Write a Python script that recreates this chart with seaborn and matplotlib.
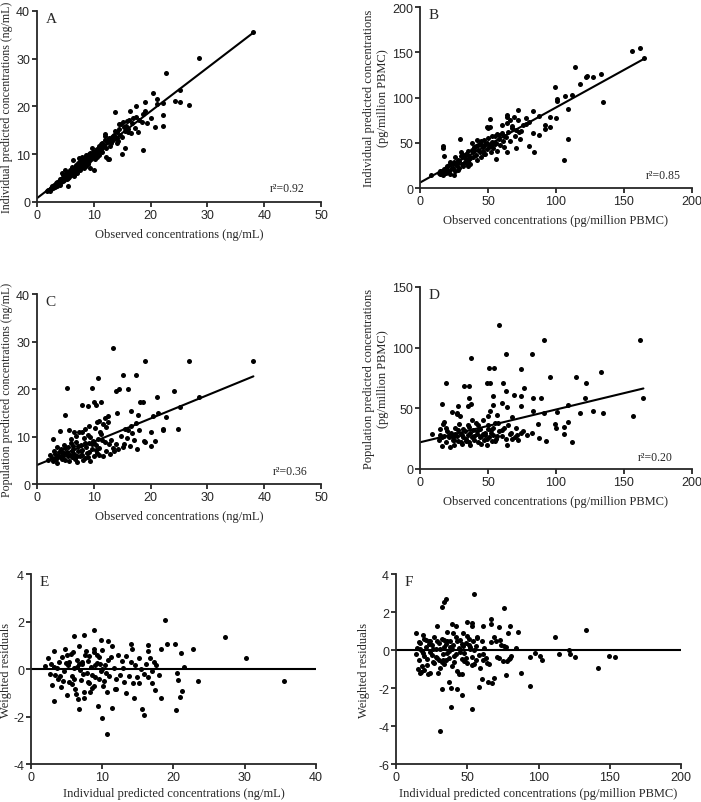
import numpy as np
import matplotlib
matplotlib.use("Agg")
import matplotlib.pyplot as plt
import seaborn as sns

# ---- panel A: observed vs individual predicted (ng/mL)
a_obs = [1.8, 2.0, 2.2, 2.4, 2.5, 2.7, 2.9, 3.0, 3.2, 3.3,
         3.5, 3.6, 3.8, 3.9, 4.0, 4.2, 4.3, 4.4, 4.5, 4.7,
         4.8, 4.9, 5.0, 5.1, 5.2, 5.3, 5.4, 5.5, 5.6, 5.7,
         5.8, 5.9, 6.0, 6.1, 6.2, 6.3, 6.4, 6.5, 6.6, 6.7,
         6.8, 6.9, 7.0, 7.1, 7.2, 7.3, 7.4, 7.5, 7.6, 7.7,
         7.8, 7.9, 8.0, 8.1, 8.2, 8.3, 8.4, 8.5, 8.6, 8.7,
         8.8, 8.9, 9.0, 9.1, 9.2, 9.3, 9.4, 9.5, 9.6, 9.8,
         9.9, 10.0, 10.1, 10.2, 10.4, 10.5, 10.6, 10.8, 10.9, 11.0,
         11.2, 11.3, 11.5, 11.6, 11.8, 11.9, 12.1, 12.2, 12.4, 12.5,
         12.7, 12.8, 13.0, 13.2, 13.4, 13.6, 13.8, 14.0, 14.2, 14.4,
         14.6, 14.8, 15.0, 15.3, 15.5, 15.7, 16.0, 16.2, 16.5, 16.8,
         2.6, 3.4, 4.1, 4.6, 5.2, 5.7, 6.3, 6.9, 7.5, 8.1,
         8.7, 9.3, 9.9, 10.4, 10.9, 11.5, 12.0, 12.6, 13.3, 14.1,
         5.0, 5.5, 6.1, 6.6, 7.0, 7.4, 7.9, 8.3, 8.9, 9.4,
         13.8, 15.0, 15.5, 14.1, 17.4, 16.4, 17.7, 18.4, 18.6, 17.5,
         16.1, 14.4, 13.7, 12.7, 12.6, 11.9, 18.6, 19.1, 19.1, 20.1,
         20.4, 20.8, 21.1, 21.2, 22.1, 22.1, 22.1, 22.7, 24.3, 25.1,
         25.2, 26.8, 28.5, 38.1, 16.9, 17.3, 15.9, 15.2, 19.4, 18.0]
a_ipred = [2.2, 2.6, 2.4, 3.0, 2.7, 3.2, 2.9, 3.5, 3.1, 3.8,
           3.4, 4.1, 3.9, 4.5, 3.6, 4.2, 4.8, 6.1, 4.4, 5.0,
           4.6, 5.4, 5.1, 5.9, 4.9, 5.5, 6.3, 3.4, 5.8, 5.2,
           6.6, 6.0, 5.6, 7.4, 6.2, 8.7, 6.7, 5.9, 7.0, 6.4,
           7.5, 6.8, 7.8, 6.1, 7.2, 8.1, 7.0, 8.5, 6.6, 7.9,
           8.3, 7.4, 9.5, 7.8, 8.6, 7.1, 9.0, 8.2, 9.8, 7.6,
           8.9, 9.3, 8.0, 10.1, 8.6, 9.6, 7.2, 9.0, 11.3, 9.4,
           10.5, 6.6, 9.8, 9.1, 10.8, 9.5, 11.0, 10.2, 11.8, 9.9,
           10.9, 12.2, 10.5, 11.5, 12.0, 14.2, 11.3, 9.5, 12.6, 8.9,
           13.0, 11.8, 12.4, 13.6, 12.9, 14.1, 13.3, 14.6, 12.8, 15.2,
           14.0, 16.3, 13.7, 15.6, 14.8, 16.0, 15.3, 17.2, 14.5, 16.6,
           3.4, 3.9, 4.9, 5.6, 5.8, 6.1, 7.0, 7.7, 7.3, 8.9,
           8.5, 8.9, 9.6, 10.2, 11.2, 12.3, 12.9, 13.4, 13.9, 13.5,
           6.8, 5.1, 6.7, 5.5, 6.5, 9.2, 8.8, 9.3, 8.1, 10.3,
           18.8, 10.0, 11.4, 12.3, 20.2, 19.1, 14.6, 16.7, 18.4, 17.9,
           14.6, 16.3, 14.9, 13.2, 9.1, 13.9, 10.9, 21.0, 19.0, 17.5,
           22.8, 15.6, 20.5, 21.6, 20.7, 18.3, 16.0, 27.1, 21.1, 20.9,
           23.5, 20.4, 30.1, 35.6, 17.5, 15.4, 17.0, 16.8, 16.6, 17.2]

# ---- panel B: observed vs individual predicted (pg/million PBMC)
b_obs = [14, 15, 16, 17, 18, 19, 20, 21, 22, 23,
         24, 25, 26, 27, 28, 29, 30, 31, 32, 33,
         34, 35, 36, 37, 38, 39, 40, 41, 42, 43,
         44, 45, 46, 47, 48, 49, 50, 51, 52, 53,
         54, 55, 56, 57, 58, 59, 60, 61, 62, 63,
         65, 66, 68, 70, 72, 74, 76, 78, 80, 15,
         17, 19, 21, 23, 25, 27, 29, 31, 33, 35,
         37, 39, 41, 43, 45, 47, 49, 51, 53, 55,
         18, 22, 26, 30, 34, 38, 42, 46, 50, 58,
         16, 20, 24, 28, 32, 36, 40, 44, 48, 52,
         57, 62, 66, 69, 73, 64, 60, 25, 35, 45,
         164.5, 161.6, 156.2, 114.2, 132.8, 126.9, 122.0, 123.0, 117.6, 111.7,
         106.6, 99.0, 100.5, 100.5, 108.8, 134.7, 108.8, 105.6, 99.8, 95.6,
         91.7, 91.7, 87.3, 83.1, 83.1, 87.5, 83.8, 80.2, 78.0, 71.9,
         70.5, 63.8, 63.8, 63.8, 55.7, 51.6, 49.6, 51.6, 29.1, 16.6,
         16.9, 8.3, 73.6, 70.7, 67.5, 95.6]
b_ipred = [17, 15, 19, 14, 21, 17, 24, 19, 16, 27,
           22, 29, 19, 26, 31, 22, 35, 27, 24, 33,
           38, 30, 35, 27, 42, 34, 45, 37, 31, 48,
           40, 52, 45, 38, 49, 43, 55, 47, 40, 51,
           44, 58, 50, 41, 54, 47, 61, 52, 45, 56,
           62, 52, 66, 58, 75, 63, 70, 77, 73, 19,
           18, 22, 25, 21, 28, 24, 30, 37, 29, 41,
           33, 40, 46, 42, 47, 53, 50, 45, 57, 49,
           35, 29, 34, 40, 28, 50, 53, 41, 66, 59,
           16, 20, 26, 20, 36, 32, 42, 50, 38, 48,
           60, 58, 75, 79, 62, 78, 70, 14, 24, 34,
           143.6, 154.7, 151.0, 134.1, 126.3, 123.0, 122.6, 123.7, 115.3, 102.4,
           101.3, 112.0, 98.7, 95.8, 87.7, 95.0, 53.8, 30.6, 77.3, 67.8,
           69.2, 65.6, 79.6, 84.7, 61.1, 58.2, 39.4, 46.4, 71.0, 85.8,
           44.6, 80.3, 39.4, 71.8, 32.4, 76.6, 67.4, 67.4, 54.5, 46.4,
           44.0, 14.7, 54.5, 63.7, 68.1, 78.5]

# ---- panel C: observed vs population predicted (ng/mL)
c_obs = [2.0, 2.3, 2.6, 2.9, 3.2, 3.4, 3.6, 3.8, 4.0, 4.2,
         4.4, 4.6, 4.8, 5.0, 5.2, 5.4, 5.6, 5.8, 6.0, 6.2,
         6.4, 6.6, 6.8, 7.0, 7.2, 7.4, 7.6, 7.8, 8.0, 8.2,
         8.4, 8.6, 8.8, 9.0, 9.2, 9.4, 9.6, 9.8, 10.0, 10.2,
         10.4, 10.6, 10.8, 11.0, 11.3, 11.6, 11.9, 12.2, 12.5, 12.8,
         13.1, 13.5, 13.9, 14.3, 14.7, 15.1, 15.5, 15.9, 16.3, 16.7,
         3.0, 3.7, 4.3, 4.9, 5.5, 6.1, 6.7, 7.3, 7.9, 8.5,
         9.1, 9.7, 10.3, 10.9, 11.5, 12.1, 12.7, 13.3, 5.3, 6.3,
         7.1, 8.1, 9.3, 4.7, 5.9, 6.9, 7.7, 8.9, 10.1, 11.1,
         16.0, 16.5, 17.0, 17.5, 18.0, 12.0, 11.0, 8.5, 6.5, 3.5,
         38.1, 26.8, 19.1, 13.4, 10.8, 5.3, 9.6, 15.2, 17.4, 14.5,
         13.9, 16.0, 24.2, 21.1, 28.5, 25.2, 18.1, 18.6, 7.9, 10.0,
         10.4, 11.3, 4.9, 9.0, 14.1, 16.6, 17.7, 20.5, 21.3, 22.7,
         22.1, 22.2, 24.9, 20.1, 20.8, 18.8, 19.1, 20.0, 17.6, 15.3,
         10.5, 11.7, 12.5, 9.1, 8.0, 2.9, 4.0, 5.6]
c_pred = [5.0, 6.1, 5.5, 4.9, 6.3, 5.2, 4.5, 6.8, 5.7, 7.3,
          5.3, 6.0, 8.2, 5.0, 6.7, 7.8, 4.8, 6.2, 9.5, 5.6,
          7.4, 6.3, 8.8, 4.7, 6.9, 11.0, 5.9, 8.3, 7.1, 9.6,
          5.4, 7.8, 6.5, 10.3, 8.6, 4.9, 7.3, 9.0, 6.0, 11.7,
          8.2, 6.6, 9.4, 7.5, 10.6, 5.9, 8.8, 7.0, 13.0, 6.4,
          9.2, 6.9, 8.5, 7.3, 10.2, 7.8, 11.5, 9.6, 8.0, 10.8,
          6.9, 5.8, 7.0, 7.5, 5.9, 6.9, 5.2, 8.0, 6.1, 8.7,
          6.8, 8.4, 7.1, 6.2, 9.3, 12.0, 8.4, 7.6, 6.4, 7.9,
          6.0, 5.1, 9.8, 6.6, 8.6, 10.2, 7.0, 5.7, 8.6, 11.0,
          11.3, 12.2, 9.3, 12.9, 11.4, 14.0, 13.2, 11.5, 11.0, 7.7,
          25.8, 25.9, 25.9, 28.7, 22.3, 20.2, 20.2, 23.0, 23.0, 20.0,
          19.5, 20.1, 19.5, 18.4, 18.4, 16.3, 17.2, 17.2, 16.7, 17.3,
          16.7, 17.2, 14.6, 16.4, 14.9, 15.4, 14.5, 14.4, 15.0, 14.2,
          11.6, 11.4, 11.5, 10.9, 9.1, 9.1, 8.9, 7.9, 7.4, 8.4,
          13.0, 12.6, 14.4, 12.3, 10.9, 9.5, 11.1, 11.4]

# ---- panel D: observed vs population predicted (pg/million PBMC)
d_obs = [9, 14, 15, 16, 17, 18, 19, 20, 21, 22,
         23, 24, 25, 26, 27, 28, 29, 30, 31, 32,
         33, 34, 35, 36, 37, 38, 39, 40, 41, 42,
         43, 44, 45, 46, 47, 48, 49, 50, 51, 52,
         53, 54, 55, 56, 58, 60, 62, 64, 66, 68,
         70, 72, 74, 16, 19, 22, 25, 28, 31, 34,
         37, 40, 43, 46, 49, 52, 55, 18, 24, 30,
         36, 42, 48, 54, 60, 65, 45, 38, 27, 21,
         15, 26, 32, 44, 50, 57, 63, 67, 71, 35,
         57.9, 91.4, 162.1, 37.7, 82.4, 63.3, 50.6, 54.5, 74.3, 18.8,
         49.4, 51.6, 32.3, 36.4, 61.4, 95.8, 114.4, 133.0, 122.0, 76.5,
         69.4, 74.3, 53.8, 36.4, 82.9, 89.2, 121.3, 164.3, 63.3, 74.3,
         109.0, 100.5, 91.4, 82.9, 117.6, 126.9, 134.7, 156.5, 108.6, 106.1,
         99.3, 99.8, 105.9, 111.5, 92.4, 86.6, 82.4, 87.3, 76.0, 78.5,
         16.1, 37.7, 35.5, 29.6, 27.1, 23.5, 27.9, 51.6, 49.9, 60.6,
         54.0, 64.3, 56.5, 57.2, 67.5, 70.7]
d_pred = [29, 24, 33, 19, 37, 27, 22, 31, 26, 18,
          30, 24, 20, 34, 27, 23, 37, 29, 21, 26,
          31, 23, 28, 35, 20, 26, 32, 24, 38, 29,
          22, 33, 27, 40, 24, 30, 20, 36, 26, 32,
          23, 28, 38, 25, 31, 27, 34, 20, 29, 25,
          26, 24, 30, 26, 34, 28, 24, 32, 28, 25,
          30, 27, 36, 29, 25, 30, 23, 39, 26, 22,
          22, 31, 28, 34, 32, 36, 21, 40, 45, 28,
          28, 29, 33, 26, 33, 27, 25, 30, 28, 36,
          118.6, 106.5, 106.5, 91.7, 95.0, 94.4, 83.4, 83.4, 82.3, 71.0,
          71.0, 71.0, 68.3, 68.3, 71.0, 76.0, 76.0, 80.1, 70.5, 66.9,
          60.8, 60.3, 60.0, 58.9, 58.9, 58.9, 58.1, 58.9, 63.9, 51.7,
          52.8, 47.1, 46.0, 47.9, 46.0, 47.9, 46.0, 43.8, 38.8, 35.0,
          37.4, 33.6, 29.2, 22.0, 23.4, 37.4, 30.0, 25.9, 31.0, 28.4,
          53.4, 53.4, 52.0, 43.8, 46.0, 47.1, 51.7, 47.6, 43.8, 54.2,
          53.1, 50.9, 44.3, 38.3, 43.2, 34.1]

# ---- panel E: individual predicted (ng/mL) vs weighted residuals
e_ipred = [2.4, 2.6, 2.8, 3.0, 3.2, 3.4, 3.6, 3.8, 4.0, 4.2,
           4.4, 4.6, 4.8, 5.0, 5.2, 5.4, 5.6, 5.8, 6.0, 6.2,
           6.4, 6.6, 6.8, 7.0, 7.2, 7.4, 7.6, 7.8, 8.0, 8.2,
           8.4, 8.6, 8.8, 9.0, 9.2, 9.4, 9.6, 9.8, 10.0, 10.2,
           10.4, 10.6, 10.8, 11.0, 11.3, 11.6, 11.9, 12.2, 12.5, 12.8,
           13.1, 13.4, 13.7, 14.0, 14.3, 14.6, 14.9, 15.2, 15.5, 15.8,
           16.1, 16.4, 16.7, 17.0, 17.3, 17.6, 17.9, 3.3, 4.1, 4.9,
           5.7, 6.5, 7.3, 8.1, 8.9, 9.7, 10.5, 11.2, 12.0, 12.9,
           5.3, 6.1, 6.9, 7.7, 8.5, 9.3, 10.1, 4.5, 5.9, 7.1,
           8.0, 8.8, 9.6, 6.3, 7.5, 9.0, 5.0, 6.7, 8.3, 9.9,
           18.8, 27.2, 30.2, 35.5, 23.4, 22.8, 21.5, 21.1, 20.2, 19.1,
           18.3, 20.5, 20.6, 21.2, 20.9, 20.4, 18.2, 17.4, 17.0, 15.9,
           15.6, 10.7, 9.9, 11.3, 6.7, 3.2, 8.9, 6.1, 7.5, 9.8,
           10.8, 16.4, 16.4, 14.1, 14.2, 1.9, 14.4, 13.3, 15.2, 11.8]
e_wres = [0.45, -0.22, 0.20, -0.68, 0.75, -0.25, 0.05, -0.40, 0.30, -0.75,
          0.50, -0.10, 0.85, -1.10, 0.15, -0.55, 0.65, -0.30, 0.05, -0.85,
          0.40, -1.25, 0.95, -0.45, 0.20, -0.95, 0.60, -0.15, 0.35, -0.60,
          0.10, -0.80, 0.70, -0.35, 0.25, -1.55, 0.50, -0.10, 0.80, -0.50,
          0.15, -0.95, 0.40, -0.30, 0.95, 0.05, -0.85, 0.60, -0.25, 0.35,
          -0.55, 0.55, -0.30, 0.30, -0.60, 0.15, -0.35, 0.45, 0.00, -0.20,
          0.20, -0.35, 0.45, -0.10, 0.30, 0.15, -0.25, 0.10, -0.30, 0.25,
          -0.65, 0.10, -0.20, 0.55, -0.70, 0.20, -0.15, 0.50, -0.40, 0.05,
          0.30, -0.40, -0.05, 0.75, -0.25, 0.60, -0.70, -0.50, 0.70, 0.30,
          -0.55, 0.85, -0.40, -1.05, -1.20, 0.15, 0.60, 0.20, -0.95, 0.00,
          2.06, 1.35, 0.45, -0.50, -0.50, 0.83, 0.07, 0.69, 1.04, 1.04,
          0.83, -0.18, -0.46, -0.91, -1.16, -1.74, -1.23, -0.88, -0.57, -1.95,
          -1.70, -2.75, -2.05, -1.65, -1.67, -1.35, 1.63, 1.39, 1.43, 1.22,
          1.18, 1.00, 0.75, 1.04, 0.83, 0.13, -1.20, -1.00, -0.57, -0.83]

# ---- panel F: individual predicted (pg/million PBMC) vs weighted residuals
f_ipred = [14, 15, 16, 17, 18, 19, 20, 21, 22, 23,
           24, 25, 26, 27, 28, 29, 30, 31, 32, 33,
           34, 35, 36, 37, 38, 39, 40, 41, 42, 43,
           44, 45, 46, 47, 48, 49, 50, 51, 52, 53,
           54, 55, 56, 57, 58, 59, 60, 61, 62, 63,
           65, 67, 69, 71, 73, 75, 77, 79, 81, 17,
           19, 21, 23, 25, 27, 29, 31, 33, 35, 37,
           39, 41, 43, 45, 47, 49, 51, 53, 55, 57,
           16, 20, 24, 28, 32, 36, 40, 44, 48, 52,
           18, 22, 26, 30, 34, 38, 42, 46, 50, 70,
           72, 74, 76, 78, 80, 61, 64, 36, 46, 56,
           30.7, 54.4, 35.4, 33.8, 32.6, 75.5, 38.9, 53.5, 46.2, 43.1,
           32.1, 38.9, 37.0, 57.9, 94.3, 87.5, 68.7, 67.3, 64.5, 60.3,
           76.9, 111.4, 133.6, 141.8, 149.4, 154.0, 125.9, 122.4, 121.7, 114.7,
           102.7, 101.3, 97.8, 94.0, 83.9, 85.3, 80.0, 78.3, 66.4, 66.4,
           72.0, 28.8, 39.6, 42.4, 49.5, 53.5, 53.5, 60.7, 14.3, 15.5,
           17.8, 16.5, 19.7, 22.3, 23.7, 29.5, 33.8]
f_wres = [-0.20, 0.10, -0.55, 0.35, -0.05, 0.80, -0.30, 0.15, -0.80, 0.50,
          -0.10, 0.25, -0.65, 0.70, 0.05, -0.40, 0.35, -0.95, 0.60, -0.20,
          0.15, -0.55, 0.95, -0.05, 0.45, -0.85, 0.25, -0.30, 0.70, -1.10,
          0.10, 0.55, -0.45, 0.90, -0.15, 0.35, -0.70, 0.60, 0.05, -0.35,
          0.45, -0.75, 0.20, 0.70, -0.25, -0.95, 0.45, -0.55, 0.10, -0.40,
          -0.75, 0.40, 0.70, -0.35, 0.55, -0.60, 0.15, -0.45, -0.30, 0.05,
          -0.15, 0.55, 0.30, -0.25, -0.70, 0.45, 0.05, -0.50, 0.30, -0.40,
          0.05, -0.65, 0.45, -0.10, 0.20, -0.40, 0.25, -0.80, 0.00, 0.65,
          0.40, 0.60, 0.45, -0.35, -0.65, -0.15, 0.90, -1.25, -0.60, 0.15,
          -0.85, -0.45, 0.05, -0.55, 0.55, 0.15, -0.20, 0.30, 0.75, 0.45,
          -0.40, 0.25, 0.20, -0.60, -0.40, -0.20, -0.70, 0.50, -1.25, -0.55,
          -4.27, 2.96, 2.69, 2.51, 2.25, 2.19, -3.01, -3.10, -2.35, -2.04,
          -2.05, -2.00, -1.70, -1.95, -1.91, -1.20, -1.47, -1.73, -1.68, -1.52,
          -1.33, 0.71, 1.04, -0.94, -0.32, -0.35, -0.35, -0.23, 0.00, -0.20,
          -0.50, -0.32, -0.18, -0.38, 0.12, 0.97, 1.24, 0.92, 1.63, 1.36,
          1.22, 1.26, 1.36, 1.27, 1.50, 1.40, 1.24, 1.24, 0.92, -1.00,
          -1.15, -1.20, -1.03, -1.26, -1.20, -1.20, -0.71]

# fitted lines (intercept, slope) and r^2 labels
fit_a = (0.8, 0.91)
fit_b = (6.0, 0.83)
fit_c = (4.0, 0.49)
fit_d = (22.0, 0.27)
r2_labels = ["r\u00b2=0.92", "r\u00b2=0.85", "r\u00b2=0.36", "r\u00b2=0.20"]

sns.set_style("ticks")
plt.rcParams["font.family"] = ["Liberation Sans", "DejaVu Sans"]
plt.rcParams["axes.unicode_minus"] = False
plt.rcParams["axes.linewidth"] = 1.3
plt.rcParams["xtick.major.width"] = 1.3
plt.rcParams["ytick.major.width"] = 1.3
plt.rcParams["xtick.major.size"] = 3.5
plt.rcParams["ytick.major.size"] = 3.5
plt.rcParams["xtick.major.pad"] = 1.5
plt.rcParams["ytick.major.pad"] = 1.5
plt.rcParams["xtick.labelsize"] = 9
plt.rcParams["ytick.labelsize"] = 9

SERIF = ["Liberation Serif", "DejaVu Serif"]

fig = plt.figure(figsize=(7.01, 8.03), dpi=100)


def panel(rect, x, y, letter, xlabel, ylabel, xlim, ylim, xstep, ystep,
          fit=None, r2=None, r2_pos=None, zero=False, ypad=3, xpad=5, ysize=9):
    ax = fig.add_axes(rect)
    sns.scatterplot(x=x, y=y, ax=ax, color="black", s=13, linewidth=0,
                    legend=False, zorder=3, clip_on=False)
    if fit is not None:
        xs = np.array([0, max(x)])
        ax.plot(xs, fit[0] + fit[1] * xs, color="black", lw=1.5)
    if zero:
        ax.axhline(0, color="black", lw=1.5)
    ax.set_xlim(xlim)
    ax.set_ylim(ylim)
    ax.set_xticks(np.arange(xlim[0], xlim[1] + 1, xstep))
    ax.set_yticks(np.arange(ylim[0], ylim[1] + 1, ystep))
    ax.set_xlabel(xlabel, family=SERIF, fontsize=9, labelpad=xpad)
    ax.set_ylabel(ylabel, family=SERIF, fontsize=ysize, labelpad=ypad)
    ax.text(0.03, 0.995, letter, transform=ax.transAxes, family=SERIF,
            fontsize=11, va="top", ha="left")
    if r2 is not None:
        ax.text(r2_pos[0], r2_pos[1], r2, transform=ax.transAxes,
                family=SERIF, fontsize=8.5, va="center", ha="left")
    sns.despine(ax=ax)
    return ax


ng_obs = "Observed concentrations (ng/mL)"
pg_obs = "Observed concentrations (pg/million PBMC)"

panel([0.0528, 0.7472, 0.4051, 0.2379], a_obs, a_ipred, "A", ng_obs,
      "Individual predicted concentrations (ng/mL)", (0, 50), (0, 40), 10, 10,
      fit=fit_a, r2=r2_labels[0], r2_pos=(0.82, 0.072), ypad=2.5, ysize=8.6)
panel([0.5991, 0.7646, 0.3880, 0.2254], b_obs, b_ipred, "B", pg_obs,
      "Individual predicted concentrations\n(pg/million PBMC)", (0, 200), (0, 200), 50, 50,
      fit=fit_b, r2=r2_labels[1], r2_pos=(0.83, 0.07), ypad=2)
panel([0.0528, 0.3960, 0.4051, 0.2366], c_obs, c_pred, "C", ng_obs,
      "Population predicted concentrations (ng/mL)", (0, 50), (0, 40), 10, 10,
      fit=fit_c, r2=r2_labels[2], r2_pos=(0.83, 0.07), ypad=2.5, ysize=8.6)
panel([0.5991, 0.4147, 0.3880, 0.2267], d_obs, d_pred, "D", pg_obs,
      "Population predicted concentrations\n(pg/million PBMC)", (0, 200), (0, 150), 50, 50,
      fit=fit_d, r2=r2_labels[3], r2_pos=(0.80, 0.067), ypad=2)
panel([0.0442, 0.0473, 0.4066, 0.2366], e_ipred, e_wres, "E",
      "Individual predicted concentrations (ng/mL)", "Weighted residuals",
      (0, 40), (-4, 4), 10, 2, zero=True, ypad=1, xpad=3)
panel([0.5649, 0.0473, 0.4066, 0.2366], f_ipred, f_wres, "F",
      "Individual predicted concentrations (pg/million PBMC)", "Weighted residuals",
      (0, 200), (-6, 4), 50, 2, zero=True, ypad=6, xpad=3)

fig.savefig("out.png", dpi=100)
